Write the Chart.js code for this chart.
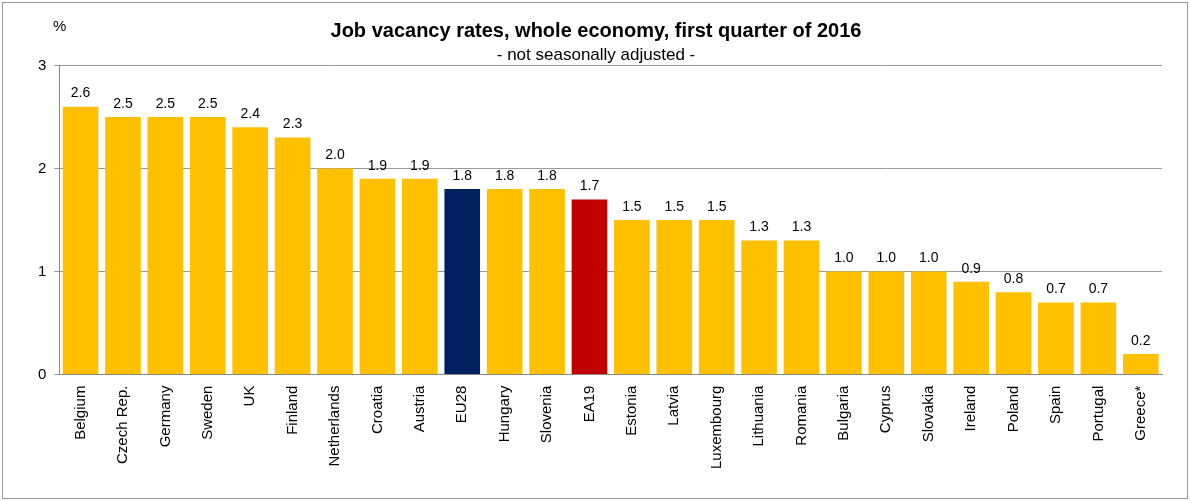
<!DOCTYPE html>
<html><head><meta charset="utf-8">
<script src="https://cdn.jsdelivr.net/npm/chart.js@4"></script>
<style>
body{margin:0;background:#fff;font-family:"Liberation Sans",Arial,sans-serif}
#wrap{position:absolute;left:2px;top:2px;width:1184px;height:495px;border:1px solid #999}
</style></head><body>
<div id="wrap"><canvas id="c"></canvas></div>
<script>
const countries = ['Belgium','Czech Rep.','Germany','Sweden','UK','Finland','Netherlands','Croatia','Austria','EU28','Hungary','Slovenia','EA19','Estonia','Latvia','Luxembourg','Lithuania','Romania','Bulgaria','Cyprus','Slovakia','Ireland','Poland','Spain','Portugal','Greece*'];
const rates = [2.6,2.5,2.5,2.5,2.4,2.3,2.0,1.9,1.9,1.8,1.8,1.8,1.7,1.5,1.5,1.5,1.3,1.3,1.0,1.0,1.0,0.9,0.8,0.7,0.7,0.2];
const yTicks = [0,1,2,3];
const barColors = countries.map(c => c==='EU28' ? '#002060' : c==='EA19' ? '#C00000' : '#FFC000');

const valueLabels = {
  id:'valueLabels',
  afterDatasetsDraw(chart){
    const ctx = chart.ctx;
    ctx.save();
    ctx.font = '14px "Liberation Sans", Arial';
    ctx.fillStyle = '#000'; ctx.textAlign = 'center'; ctx.textBaseline = 'bottom';
    chart.getDatasetMeta(0).data.forEach((b,i) => ctx.fillText(rates[i].toFixed(1), b.x, b.y-6));
    ctx.font = '15px "Liberation Sans", Arial';
    ctx.textAlign = 'left'; ctx.textBaseline = 'alphabetic';
    ctx.fillText('%', 50, 28);
    ctx.restore();
  }
};

new Chart(document.getElementById('c'), {
  type:'bar',
  data:{labels:countries, datasets:[{data:rates, backgroundColor:barColors, barPercentage:0.84, categoryPercentage:1}]},
  options:{
    responsive:true, maintainAspectRatio:false, animation:false,
    layout:{padding:{left:27,right:25,top:0,bottom:26}},
    plugins:{
      legend:{display:false}, tooltip:{enabled:false},
      title:{display:true, text:'Job vacancy rates, whole economy, first quarter of 2016', color:'#000', font:{size:20,weight:'bold',family:'"Liberation Sans", Arial'}, padding:{top:16,bottom:0}},
      subtitle:{display:true, text:'- not seasonally adjusted -', color:'#000', font:{size:17,family:'"Liberation Sans", Arial'}, padding:{top:2,bottom:0}}
    },
    scales:{
      x:{grid:{display:false}, border:{color:'#888'},
        ticks:{color:'#000', minRotation:90, maxRotation:90, autoSkip:false, font:{size:15,family:'"Liberation Sans", Arial'}}},
      y:{min:0,max:3, afterBuildTicks:a=>{a.ticks=yTicks.map(v=>({value:v}));},
        grid:{color:'#999', drawTicks:true, tickLength:5}, border:{color:'#888'},
        ticks:{color:'#000', padding:8, font:{size:15,family:'"Liberation Sans", Arial'}}}
    }
  },
  plugins:[valueLabels]
});
</script>
</body></html>
